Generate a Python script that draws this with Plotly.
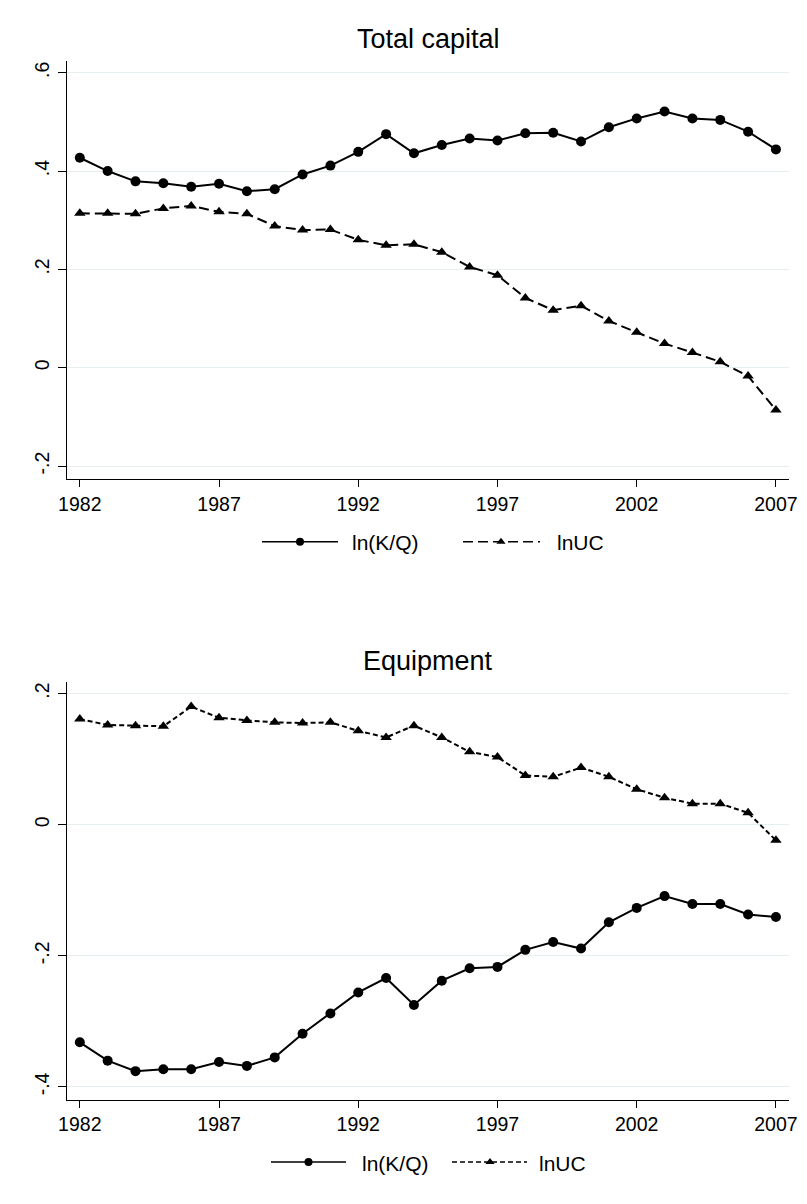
import plotly.graph_objects as go

# Years shared by both panels
years = list(range(1982, 2008))

# Total capital
total_lnkq = [0.427, 0.400, 0.379, 0.375, 0.368, 0.374, 0.359, 0.363, 0.393, 0.411,
              0.439, 0.475, 0.436, 0.453, 0.466, 0.462, 0.477, 0.478, 0.460, 0.489,
              0.507, 0.521, 0.507, 0.504, 0.480, 0.444]
total_lnuc = [0.314, 0.314, 0.313, 0.324, 0.329, 0.317, 0.313, 0.288, 0.280, 0.281,
              0.260, 0.249, 0.251, 0.235, 0.205, 0.188, 0.142, 0.117, 0.126, 0.095,
              0.072, 0.049, 0.031, 0.012, -0.017, -0.086]

# Equipment
equip_lnkq = [-0.332, -0.360, -0.376, -0.373, -0.373, -0.362, -0.368, -0.355, -0.319, -0.288,
              -0.256, -0.234, -0.275, -0.238, -0.219, -0.217, -0.191, -0.179, -0.189, -0.149,
              -0.127, -0.109, -0.121, -0.121, -0.137, -0.141]
equip_lnuc = [0.161, 0.152, 0.151, 0.150, 0.180, 0.163, 0.159, 0.156, 0.155, 0.156,
              0.143, 0.133, 0.151, 0.133, 0.111, 0.103, 0.075, 0.073, 0.087, 0.073,
              0.054, 0.041, 0.032, 0.032, 0.018, -0.024]

x_ticks = [1982, 1987, 1992, 1997, 2002, 2007]
top_yticks = [-0.2, 0, 0.2, 0.4, 0.6]
top_yticktext = ["-.2", "0", ".2", ".4", ".6"]
bot_yticks = [-0.4, -0.2, 0, 0.2]
bot_yticktext = ["-.4", "-.2", "0", ".2"]

titles = ["Total capital", "Equipment"]
series_names = ["ln(K/Q)", "lnUC"]

W, H = 807, 1204
FONT = "Arial, Liberation Sans, sans-serif"
INK = "#000000"
GRID = "#e6eef1"


def px_x(p):
    return p / W


def px_y(p):
    return 1 - p / H


fig = go.Figure()

# Data traces
panels = [
    ("x", "y", total_lnkq, total_lnuc, "10px,5px"),
    ("x2", "y2", equip_lnkq, equip_lnuc, "5px,3px"),
]
for xa, ya, kq, uc, dash in panels:
    fig.add_trace(go.Scatter(
        x=years, y=kq, xaxis=xa, yaxis=ya, mode="lines+markers",
        name=series_names[0], showlegend=False,
        line=dict(color=INK, width=2),
        marker=dict(symbol="circle", size=10, color=INK),
    ))
    fig.add_trace(go.Scatter(
        x=years, y=uc, xaxis=xa, yaxis=ya, mode="lines+markers",
        name=series_names[1], showlegend=False,
        line=dict(color=INK, width=2, dash=dash),
        marker=dict(symbol="triangle-up", size=10, color=INK),
    ))

x_dom = [px_x(67), px_x(789.3)]
x_range = [1981.54, 2007.48]

common_x = dict(
    domain=x_dom, range=x_range, tickmode="array", tickvals=x_ticks,
    ticks="outside", ticklen=7, tickwidth=1, tickcolor=INK,
    showline=True, linecolor=INK, linewidth=1, showgrid=False, zeroline=False,
    tickfont=dict(family=FONT, size=19.5, color=INK), fixedrange=True,
    automargin=False,
)
common_y = dict(
    ticks="outside", ticklen=8, tickwidth=1, tickcolor=INK, tickangle=-90,
    showline=True, linecolor=INK, linewidth=1, showgrid=True, gridcolor=GRID,
    gridwidth=1, zeroline=False, tickfont=dict(family=FONT, size=19.5, color=INK),
    fixedrange=True, ticklabelstandoff=1, automargin=False,
)

fig.update_layout(
    xaxis=dict(common_x, anchor="y"),
    yaxis=dict(common_y, anchor="x", domain=[px_y(479.3), px_y(60.7)],
               range=[-0.227, 0.6244], tickvals=top_yticks, ticktext=top_yticktext),
    xaxis2=dict(common_x, anchor="y2"),
    yaxis2=dict(common_y, anchor="x2", domain=[px_y(1100), px_y(681.7)],
                range=[-0.420, 0.218], tickvals=bot_yticks, ticktext=bot_yticktext),
    # pixel-unit overlay used for the hand-drawn legend keys
    xaxis3=dict(domain=[0, 1], range=[0, W], visible=False, anchor="y3",
                fixedrange=True, automargin=False),
    yaxis3=dict(domain=[0, 1], range=[H, 0], visible=False, anchor="x3",
                fixedrange=True, automargin=False),
    width=W, height=H, autosize=False,
    margin=dict(l=0, r=0, t=0, b=0),
    paper_bgcolor="white", plot_bgcolor="rgba(0,0,0,0)",
    showlegend=False,
    font=dict(family=FONT, color=INK),
)

# Panel titles
plot_center = (x_dom[0] + x_dom[1]) / 2
for title, ypix in zip(titles, [39, 661]):
    fig.add_annotation(text=title, x=plot_center, y=px_y(ypix), xref="paper", yref="paper",
                       xanchor="center", yanchor="middle", showarrow=False,
                       font=dict(family=FONT, size=27, color=INK))

# Legend keys below each panel
legends = [
    # y, solid key span, circle x, label x, dashed key span, triangle x, label x, dash
    (541.7, (262, 338), 300, 350, (463, 540), 501, 555, "10px,5px"),
    (1162, (271, 346), 308.5, 360, (452, 527), 490, 537, "5px,3px"),
]
for ly, (s0, s1), cx, tx1, (d0, d1), tx, tx2, dash in legends:
    fig.add_trace(go.Scatter(x=[s0, s1], y=[ly, ly], xaxis="x3", yaxis="y3", mode="lines",
                             line=dict(color=INK, width=1.4), hoverinfo="skip"))
    fig.add_trace(go.Scatter(x=[cx], y=[ly], xaxis="x3", yaxis="y3", mode="markers",
                             marker=dict(symbol="circle", size=8, color=INK), hoverinfo="skip"))
    fig.add_trace(go.Scatter(x=[d0, d1], y=[ly, ly], xaxis="x3", yaxis="y3", mode="lines",
                             line=dict(color=INK, width=1.4, dash=dash), hoverinfo="skip"))
    fig.add_trace(go.Scatter(x=[tx], y=[ly], xaxis="x3", yaxis="y3", mode="markers",
                             marker=dict(symbol="triangle-up", size=8, color=INK), hoverinfo="skip"))
    for label, lx in zip(series_names, [tx1, tx2]):
        fig.add_annotation(text=label, x=px_x(lx), y=px_y(ly + 1), xref="paper", yref="paper",
                           xanchor="left", yanchor="middle", showarrow=False,
                           font=dict(family=FONT, size=21, color=INK))

fig.write_html("out.html")
